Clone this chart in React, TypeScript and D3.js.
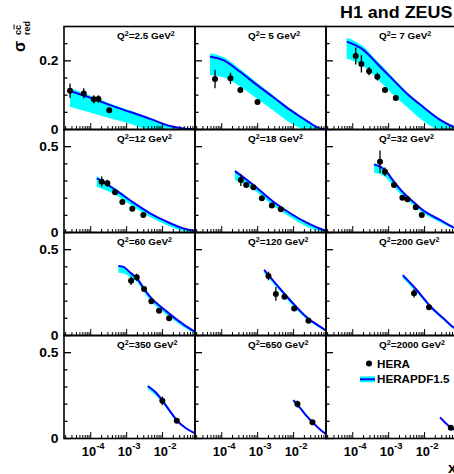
import React from "react";
import * as d3 from "d3";

const FONT = "'Liberation Sans', Arial, Helvetica, sans-serif";

// Q^2 values of the 12 panels (GeV^2)
const q2Labels = ["2.5", " 5", " 7", "12", "18", "32", "60", "120", "200", "350", "650", "2000"];

// HERA combined charm data: x, sigma_red^cc, total error
const heraX = [
  [2.65e-5, 6.4e-5, 1.22e-4, 1.64e-4, 3.27e-4],
  [6.5e-5, 1.75e-4, 3.3e-4, 9.9e-4],
  [1.21e-4, 1.74e-4, 2.85e-4, 4.85e-4, 7.9e-4, 1.58e-3],
  [2.02e-4, 2.9e-4, 4.75e-4, 7.6e-4, 1.44e-3, 2.92e-3],
  [3.4e-4, 4.8e-4, 7.6e-4, 1.31e-3, 2.49e-3, 4.43e-3],
  [5.75e-4, 7.9e-4, 1.41e-3, 2.41e-3, 3.32e-3, 5.69e-3, 8.36e-3],
  [1.33e-3, 1.91e-3, 3.05e-3, 4.88e-3, 7.99e-3, 1.52e-2],
  [2.0e-3, 3.21e-3, 5.58e-3, 1.04e-2, 2.6e-2],
  [5.09e-3, 1.33e-2],
  [9.86e-3, 2.49e-2],
  [1.28e-2, 3.36e-2],
  [5.37e-2],
];
const heraY = [
  [0.113, 0.105, 0.088, 0.089, 0.056],
  [0.147, 0.149, 0.115, 0.080],
  [0.214, 0.191, 0.170, 0.154, 0.115, 0.092],
  [0.296, 0.287, 0.234, 0.178, 0.139, 0.102],
  [0.306, 0.277, 0.263, 0.199, 0.158, 0.135],
  [0.412, 0.354, 0.277, 0.203, 0.193, 0.147, 0.102],
  [0.319, 0.339, 0.271, 0.199, 0.144, 0.100],
  [0.347, 0.242, 0.226, 0.158, 0.086],
  [0.246, 0.164],
  [0.220, 0.104],
  [0.201, 0.094],
  [0.063],
];
const heraErr = [
  [0.021, 0.015, 0.012, 0.011, 0.006],
  [0.027, 0.016, 0.009, 0.006],
  [0.025, 0.025, 0.012, 0.011, 0.007, 0.006],
  [0.03, 0.02, 0.012, 0.01, 0.01, 0.01],
  [0.035, 0.015, 0.012, 0.01, 0.01, 0.01],
  [0.065, 0.025, 0.012, 0.012, 0.012, 0.01, 0.01],
  [0.025, 0.02, 0.012, 0.01, 0.01, 0.01],
  [0.025, 0.04, 0.015, 0.012, 0.01],
  [0.025, 0.012],
  [0.025, 0.012],
  [0.02, 0.01],
  [0.01],
];

// HERAPDF1.5 prediction: x grid, central value, band low, band high
const pdfX = [
  [2.65e-5, 1e-4, 3.45e-4, 1.25e-3, 4.5e-3, 1.6e-2, 4.2e-2, 8e-2],
  [4.72e-5, 1.11e-4, 3.24e-4, 9.44e-4, 2.74e-3, 8.0e-3, 2.33e-2, 5.47e-2, 8e-2],
  [6.8e-5, 1.97e-4, 4.66e-4, 1.09e-3, 3.19e-3, 9.26e-3, 2.7e-2, 6.34e-2, 8e-2],
  [1.47e-4, 4.75e-4, 1.54e-3, 4.49e-3, 1.31e-2, 3.8e-2, 8e-2],
  [2.34e-4, 7.59e-4, 2.74e-3, 8.0e-3, 2.33e-2, 6.76e-2, 8e-2],
  [3.92e-4, 7.9e-4, 1.41e-3, 2.41e-3, 5.69e-3, 8.36e-3, 2.7e-2, 6.34e-2, 8e-2],
  [5.87e-4, 8.1e-4, 1.33e-3, 1.91e-3, 3.05e-3, 4.49e-3, 1.31e-2, 3.8e-2, 8e-2],
  [1.51e-3, 3.4e-3, 8.0e-3, 2.33e-2, 7.55e-2, 8e-2],
  [2.47e-3, 6.07e-3, 1.42e-2, 3.34e-2, 6.34e-2, 8e-2],
  [3.87e-3, 6.2e-3, 9.86e-3, 1.6e-2, 2.49e-2, 4.5e-2, 8e-2],
  [9.86e-3, 1.5e-2, 2.33e-2, 3.36e-2, 7.55e-2, 8e-2],
  [2.7e-2, 5.37e-2, 8e-2],
];
const pdfCentral = [
  [0.112, 0.092, 0.071, 0.051, 0.031, 0.010, 0.002, 0.0],
  [0.212, 0.202, 0.168, 0.130, 0.094, 0.057, 0.025, 0.003, 0.0],
  [0.256, 0.232, 0.193, 0.154, 0.105, 0.065, 0.028, 0.008, 0.004],
  [0.316, 0.250, 0.174, 0.112, 0.063, 0.024, 0.009],
  [0.358, 0.277, 0.179, 0.112, 0.057, 0.015, 0.010],
  [0.397, 0.364, 0.296, 0.238, 0.166, 0.135, 0.073, 0.030, 0.020],
  [0.405, 0.400, 0.362, 0.335, 0.272, 0.226, 0.139, 0.065, 0.022],
  [0.382, 0.295, 0.207, 0.106, 0.032, 0.028],
  [0.352, 0.265, 0.172, 0.100, 0.048, 0.035],
  [0.306, 0.272, 0.222, 0.160, 0.106, 0.060, 0.030],
  [0.224, 0.180, 0.130, 0.095, 0.030, 0.027],
  [0.123, 0.064, 0.045],
];
const pdfLow = [
  [0.066, 0.049, 0.033, 0.017, 0.0, 0.0, 0.0, 0.0],
  [0.159, 0.152, 0.125, 0.090, 0.055, 0.020, 0.0, 0.0, 0.0],
  [0.207, 0.185, 0.149, 0.110, 0.066, 0.025, 0.0, 0.0, 0.0],
  [0.267, 0.222, 0.150, 0.090, 0.044, 0.008, 0.0],
  [0.306, 0.250, 0.154, 0.090, 0.034, 0.003, 0.0],
  [0.348, 0.325, 0.265, 0.212, 0.147, 0.118, 0.060, 0.022, 0.013],
  [0.366, 0.362, 0.335, 0.313, 0.252, 0.205, 0.119, 0.050, 0.012],
  [0.362, 0.280, 0.190, 0.095, 0.025, 0.022],
  [0.333, 0.250, 0.160, 0.090, 0.040, 0.028],
  [0.287, 0.255, 0.208, 0.149, 0.098, 0.055, 0.025],
  [0.210, 0.170, 0.122, 0.089, 0.026, 0.023],
  [0.115, 0.060, 0.040],
];
const pdfHigh = [
  [0.121, 0.098, 0.076, 0.055, 0.034, 0.012, 0.003, 0.0],
  [0.222, 0.211, 0.176, 0.137, 0.099, 0.061, 0.028, 0.004, 0.0],
  [0.267, 0.242, 0.201, 0.161, 0.110, 0.069, 0.031, 0.010, 0.005],
  [0.329, 0.258, 0.180, 0.117, 0.066, 0.026, 0.010],
  [0.364, 0.283, 0.184, 0.116, 0.060, 0.017, 0.011],
  [0.403, 0.370, 0.301, 0.242, 0.169, 0.138, 0.075, 0.032, 0.021],
  [0.410, 0.405, 0.366, 0.339, 0.276, 0.229, 0.141, 0.067, 0.023],
  [0.386, 0.298, 0.210, 0.108, 0.033, 0.029],
  [0.355, 0.268, 0.174, 0.101, 0.049, 0.036],
  [0.309, 0.275, 0.225, 0.162, 0.108, 0.061, 0.031],
  [0.227, 0.182, 0.132, 0.096, 0.031, 0.028],
  [0.125, 0.067, 0.046],
];

const xDomain = [1.8e-5, 0.08];
const xMajorTicks = [1e-4, 1e-3, 1e-2];
const xTickExponents = ["-4", "-3", "-2"];
const yDomainTop = [0.3, 0.6, 0.6, 0.6];
const yMajorTicks = [[0, 0.2], [0, 0.5], [0, 0.5], [0, 0.5]];
const yMajorLabels = [["0", "0.2"], ["0", "0.5"], ["0", "0.5"], ["0", "0.5"]];
const yMinorStep = [0.05, 0.1, 0.1, 0.1];

const COL_LEFT = [64, 195, 326];
const COL_W = 131;
const ROW_TOP = [26.5, 129.5, 232.5, 335.5];
const ROW_H = 103;

const CYAN = "#00ffff";
const BLUE = "#0000ff";

function T(props: any) {
  const { x, y, size, sx = 1.1, anchor = "start", children, rotate } = props;
  const tr = `translate(${x},${y})${rotate ? ` rotate(${rotate})` : ""} scale(${sx},1)`;
  return (
    <text transform={tr} fontSize={size} fontWeight="bold" fontFamily={FONT} textAnchor={anchor} fill="#000">
      {children}
    </text>
  );
}

function Panel({ i }: { i: number }) {
  const r = Math.floor(i / 3);
  const c = i % 3;
  const left = COL_LEFT[c];
  const top = ROW_TOP[r];
  const xs = d3.scaleLog().domain(xDomain).range([left, left + COL_W]);
  const ys = d3.scaleLinear().domain([0, yDomainTop[r]]).range([top + ROW_H, top]);
  const pts = pdfX[i].map((x, k) => ({ x, c: pdfCentral[i][k], lo: pdfLow[i][k], hi: pdfHigh[i][k] }));
  const area = d3
    .area<any>()
    .x((d) => xs(d.x))
    .y0((d) => ys(d.lo))
    .y1((d) => ys(d.hi))
    .curve(d3.curveMonotoneX);
  const line = d3
    .line<any>()
    .x((d) => xs(d.x))
    .y((d) => ys(d.c))
    .curve(d3.curveMonotoneX);
  const clipId = `clip${i}`;

  // x minor ticks
  const xMinor: number[] = [];
  for (let e = -5; e <= -2; e++) {
    for (let k = 2; k <= 9; k++) {
      const v = k * Math.pow(10, e);
      if (v > xDomain[0] && v < xDomain[1]) xMinor.push(v);
    }
  }
  const yMinor: number[] = [];
  for (let v = yMinorStep[r]; v < yDomainTop[r] - 1e-9; v += yMinorStep[r]) {
    if (!yMajorTicks[r].some((m) => Math.abs(m - v) < 1e-9)) yMinor.push(v);
  }
  const bottom = top + ROW_H;

  return (
    <g>
      <defs>
        <clipPath id={clipId}>
          <rect x={left} y={top} width={COL_W} height={ROW_H} />
        </clipPath>
      </defs>
      <g clipPath={`url(#${clipId})`}>
        <path d={area(pts) || ""} fill={CYAN} stroke="none" />
        <path d={line(pts) || ""} fill="none" stroke={BLUE} strokeWidth={2} />
        {heraX[i].map((x, k) => (
          <g key={k}>
            <line
              x1={xs(x)}
              x2={xs(x)}
              y1={ys(heraY[i][k] - heraErr[i][k])}
              y2={ys(heraY[i][k] + heraErr[i][k])}
              stroke="#000"
              strokeWidth={1.3}
            />
            <circle cx={xs(x)} cy={ys(heraY[i][k])} r={3} fill="#000" />
          </g>
        ))}
      </g>
      {/* x ticks */}
      {xMajorTicks.map((v) => (
        <line key={"M" + v} x1={xs(v)} x2={xs(v)} y1={bottom} y2={bottom - 6.5} stroke="#000" strokeWidth={1} />
      ))}
      {xMinor.map((v) => (
        <line key={"m" + v} x1={xs(v)} x2={xs(v)} y1={bottom} y2={bottom - 3.5} stroke="#000" strokeWidth={1} />
      ))}
      {/* y ticks */}
      {yMajorTicks[r].map((v) => (
        <line key={"YM" + v} x1={left} x2={left + 7} y1={ys(v)} y2={ys(v)} stroke="#000" strokeWidth={1.3} />
      ))}
      {yMinor.map((v) => (
        <line key={"Ym" + v} x1={left} x2={left + 3.5} y1={ys(v)} y2={ys(v)} stroke="#000" strokeWidth={1.3} />
      ))}
      <rect x={left} y={top} width={COL_W} height={ROW_H} fill="none" stroke="#000" strokeWidth={1.6} />
      {/* Q2 label */}
      <T x={left + 53} y={top + 12.5} size={9}>
        Q<tspan dy={-3.5} fontSize={6.5}>2</tspan>
        <tspan dy={3.5}>={q2Labels[i]} GeV</tspan>
        <tspan dy={-3.5} fontSize={6.5}>2</tspan>
      </T>
      {c === 0 &&
        yMajorTicks[r].map((v, k) => (
          <T key={"yl" + v} x={58.5} y={ys(v) + 4.5} size={12.6} anchor="end">
            {yMajorLabels[r][k]}
          </T>
        ))}
      {r === 3 &&
        xMajorTicks.map((v, k) => (
          <T key={"xl" + v} x={xs(v) + 2.5} y={455.7} size={12.3} sx={1.05} anchor="middle">
            10<tspan dy={-7} fontSize={9}>{xTickExponents[k]}</tspan>
          </T>
        ))}
    </g>
  );
}

export default function App() {
  return (
    <svg
      width={454}
      height={474}
      viewBox="0 0 454 474"
      style={{ position: "absolute", left: 0, top: 0, background: "#fff" }}
    >
      <rect x={0} y={0} width={454} height={474} fill="#fff" />
      {q2Labels.map((_, i) => (
        <Panel key={i} i={i} />
      ))}
      {/* title */}
      <T x={340} y={18.3} size={16} sx={1.12}>
        H1 and ZEUS
      </T>
      {/* y axis label */}
      <g transform="translate(25,52) rotate(-90)">
        <text x={0} y={0} fontSize={16} fontWeight="bold" fontFamily={FONT}>
          σ
        </text>
        <text x={17} y={-4.3} fontSize={9} fontWeight="bold" fontFamily={FONT}>
          cc
        </text>
        <line x1={22.5} x2={27.5} y1={-11} y2={-11} stroke="#000" strokeWidth={1} />
        <text x={17} y={5} fontSize={9} fontWeight="bold" fontFamily={FONT}>
          red
        </text>
      </g>
      {/* x axis label */}
      <T x={448} y={472.7} size={15} sx={1}>
        x
      </T>
      {/* legend */}
      <circle cx={369} cy={363.5} r={3} fill="#000" />
      <T x={377} y={368.3} size={10.6}>
        HERA
      </T>
      <rect x={360} y={376.3} width={15} height={6} fill={CYAN} />
      <line x1={360} x2={375} y1={379.3} y2={379.3} stroke={BLUE} strokeWidth={2} />
      <T x={377} y={383.3} size={10.6}>
        HERAPDF1.5
      </T>
    </svg>
  );
}
